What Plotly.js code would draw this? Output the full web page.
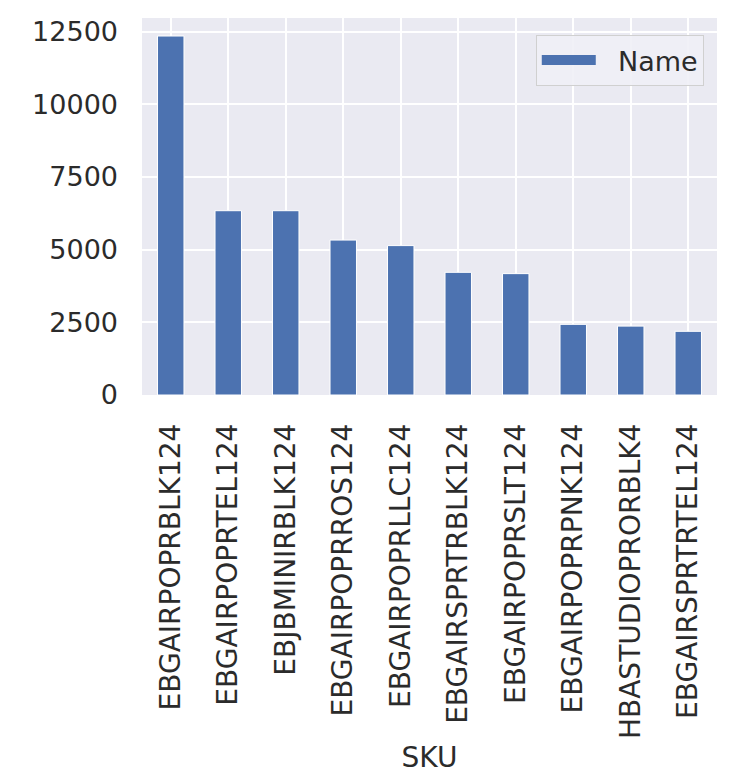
<!DOCTYPE html>
<html>
<head>
<meta charset="utf-8">
<script src="https://cdn.plot.ly/plotly-3.0.1.min.js"></script>
<style>html,body{margin:0;padding:0;background:#fff;}#chart{width:756px;height:776px;}</style>
</head>
<body>
<div id="chart"></div>
<script>
const skus = ["EBGAIRPOPRBLK124","EBGAIRPOPRTEL124","EBJBMINIRBLK124","EBGAIRPOPRROS124","EBGAIRPOPRLLC124","EBGAIRSPRTRBLK124","EBGAIRPOPRSLT124","EBGAIRPOPRPNK124","HBASTUDIOPRORBLK4","EBGAIRSPRTRTEL124"];
const nameCounts = [12350, 6340, 6340, 5330, 5140, 4220, 4175, 2430, 2370, 2190];
const yTicks = [0, 2500, 5000, 7500, 10000, 12500];
const seriesName = "Name";
const xTitle = "SKU";

const textColor = "#2b2b2b";
const barColor = "#4C72B0";
const fontFam = "DejaVu Sans, sans-serif";

const data = [{
  type: "bar",
  x: skus,
  y: nameCounts,
  name: seriesName,
  width: 0.46,
  marker: {color: barColor, line: {color: "#ffffff", width: 1}},
  showlegend: false
}, {
  type: "scatter",
  mode: "lines",
  x: [null],
  y: [null],
  name: "\u00a0\u00a0" + seriesName,
  line: {color: barColor, width: 16},
  showlegend: true,
  hoverinfo: "skip"
}];

const layout = {
  width: 756, height: 776,
  margin: {l: 142, r: 39, t: 18, b: 381, pad: 0},
  paper_bgcolor: "#ffffff",
  plot_bgcolor: "#EAEAF2",
  font: {family: fontFam, size: 27, color: textColor},
  showlegend: true,
  xaxis: {
    type: "category",
    range: [-0.5, 9.5],
    tickangle: -90,
    showgrid: true, gridcolor: "#ffffff", gridwidth: 2,
    zeroline: false, showline: false, ticks: "",
    ticklabelstandoff: 22,
    tickfont: {family: fontFam, size: 28, color: textColor},
    title: {text: xTitle, font: {family: fontFam, size: 28, color: textColor}, standoff: 9},
    automargin: false
  },
  yaxis: {
    range: [0, 12970],
    tickvals: yTicks,
    ticktext: yTicks.map(String),
    showgrid: true, gridcolor: "#ffffff", gridwidth: 2,
    zeroline: false, showline: false, ticks: "",
    ticklabelstandoff: 23,
    tickfont: {family: fontFam, size: 27, color: textColor},
    automargin: false
  },
  legend: {
    x: 0.977, y: 0.955, xanchor: "right", yanchor: "top",
    bgcolor: "rgba(240,240,246,0.9)",
    bordercolor: "#d0d0d0", borderwidth: 1,
    itemwidth: 54,
    font: {family: fontFam, size: 27, color: textColor}
  },
  bargap: 0.5
};

Plotly.newPlot("chart", data, layout, {displayModeBar: false, staticPlot: true});
</script>
</body>
</html>
